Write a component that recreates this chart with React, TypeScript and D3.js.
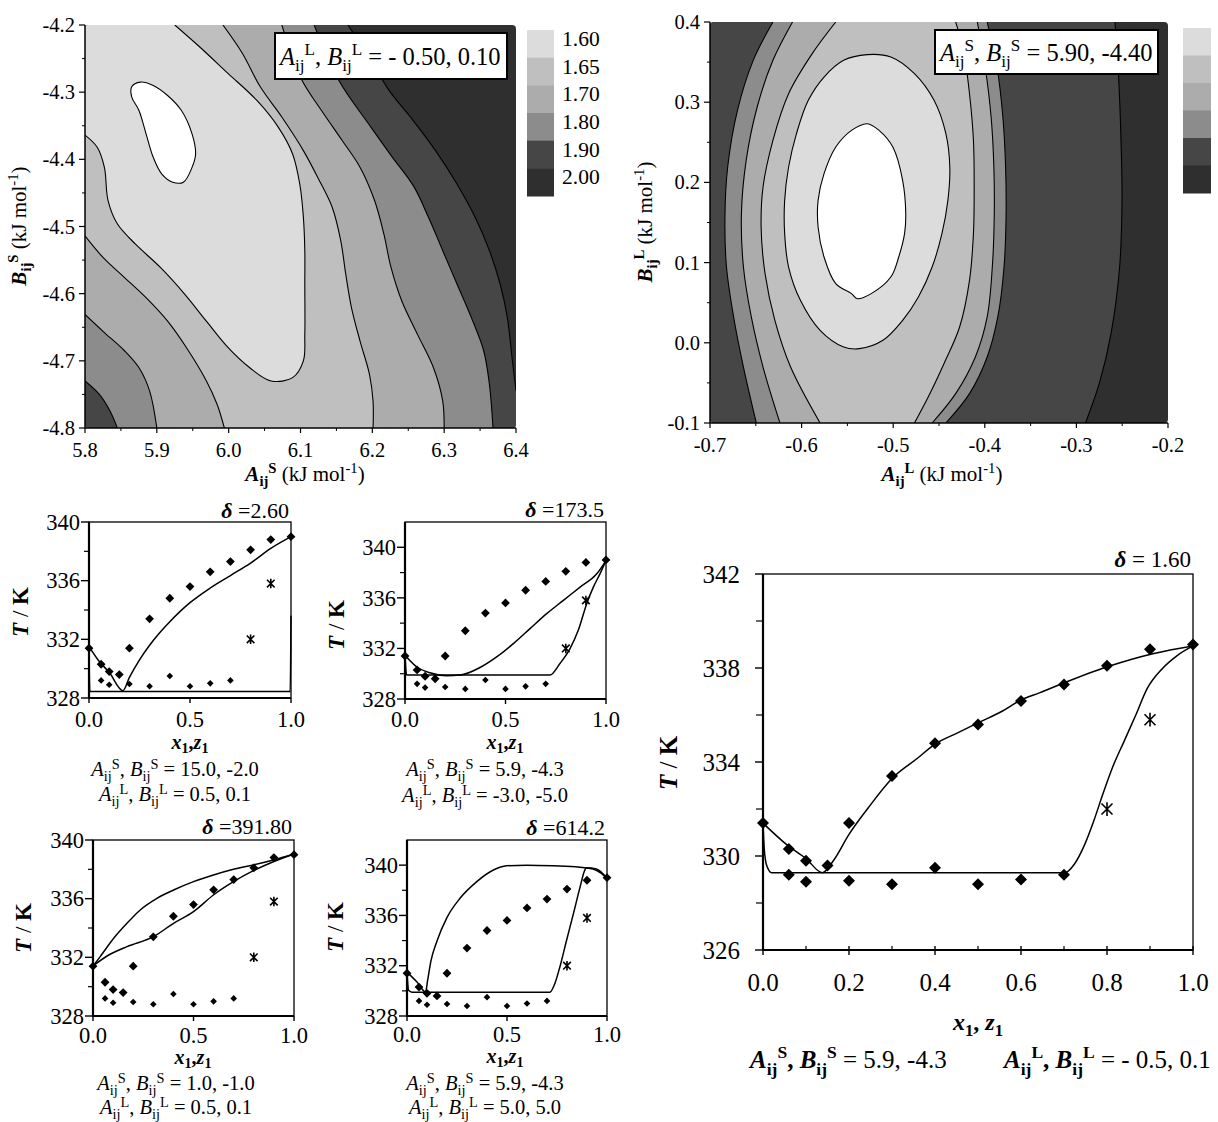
import React from "react";
import * as d3 from "d3";

const FONT = "'Liberation Serif', 'Times New Roman', serif";

// ---------------- contour levels (shared legend) ----------------
const levelLabels = ["1.60", "1.65", "1.70", "1.80", "1.90", "2.00"];
const levelGrays = ["#dcdcdc", "#bfbfbf", "#acacac", "#8c8c8c", "#464646", "#2f2f2f"];

// ---------------- top-left contour: A_ij^S vs B_ij^S ----------------
const tlXTicks = [5.8, 5.9, 6.0, 6.1, 6.2, 6.3, 6.4];
const tlYTicks = [-4.8, -4.7, -4.6, -4.5, -4.4, -4.3, -4.2];
const tl160 = [[5.865,-4.292],[5.877,-4.285],[5.895,-4.29],[5.915,-4.305],[5.934,-4.327],[5.949,-4.362],[5.954,-4.392],[5.949,-4.412],[5.937,-4.434],[5.922,-4.434],[5.907,-4.422],[5.895,-4.397],[5.885,-4.362],[5.875,-4.327],[5.865,-4.307]];
const tl165 = [[5.925,-4.2],[5.959,-4.232],[5.999,-4.272],[6.039,-4.312],[6.069,-4.352],[6.089,-4.392],[6.099,-4.437],[6.104,-4.486],[6.106,-4.536],[6.106,-4.586],[6.106,-4.661],[6.104,-4.7],[6.089,-4.725],[6.059,-4.73],[6.029,-4.71],[5.999,-4.68],[5.969,-4.641],[5.939,-4.601],[5.905,-4.561],[5.87,-4.526],[5.845,-4.496],[5.832,-4.461],[5.827,-4.412],[5.817,-4.382],[5.8,-4.364]];
const tl170a = [[5.992,-4.2],[6.019,-4.242],[6.044,-4.292],[6.074,-4.337],[6.104,-4.387],[6.124,-4.427],[6.144,-4.471],[6.156,-4.521],[6.163,-4.571],[6.171,-4.621],[6.183,-4.671],[6.196,-4.72],[6.201,-4.76],[6.201,-4.8]];
const tl170b = [[5.8,-4.514],[5.825,-4.546],[5.855,-4.576],[5.885,-4.606],[5.915,-4.641],[5.944,-4.685],[5.969,-4.73],[5.984,-4.765],[5.994,-4.8]];
const tl180a = [[6.074,-4.2],[6.101,-4.28],[6.129,-4.327],[6.158,-4.372],[6.183,-4.412],[6.203,-4.461],[6.216,-4.511],[6.226,-4.561],[6.241,-4.611],[6.263,-4.661],[6.285,-4.71],[6.298,-4.76],[6.3,-4.8]];
const tl180b = [[5.8,-4.631],[5.825,-4.656],[5.855,-4.685],[5.875,-4.71],[5.89,-4.745],[5.9,-4.8]];
const tl190a = [[6.119,-4.2],[6.153,-4.282],[6.198,-4.352],[6.228,-4.397],[6.258,-4.441],[6.278,-4.486],[6.298,-4.536],[6.318,-4.586],[6.338,-4.636],[6.355,-4.685],[6.363,-4.735],[6.368,-4.8]];
const tl190b = [[5.8,-4.73],[5.82,-4.75],[5.835,-4.775],[5.845,-4.8]];
const tl200 = [[6.166,-4.2],[6.198,-4.252],[6.223,-4.297],[6.253,-4.337],[6.288,-4.387],[6.318,-4.437],[6.343,-4.486],[6.363,-4.536],[6.378,-4.586],[6.388,-4.636],[6.395,-4.7],[6.4,-4.745]];

// ---------------- top-right contour: A_ij^L vs B_ij^L ----------------
const trXTicks = [-0.7, -0.6, -0.5, -0.4, -0.3, -0.2];
const trYTicks = [-0.1, 0.0, 0.1, 0.2, 0.3, 0.4];
const tr160 = [[-0.5283,0.2732],[-0.5455,0.2649],[-0.5627,0.2441],[-0.5755,0.2109],[-0.582,0.1776],[-0.582,0.1444],[-0.5755,0.107],[-0.5627,0.0737],[-0.5455,0.0613],[-0.5391,0.055],[-0.524,0.0613],[-0.5026,0.082],[-0.494,0.107],[-0.4876,0.1361],[-0.4863,0.161],[-0.4897,0.2026],[-0.5004,0.2441],[-0.5155,0.2649]];
const tr165 = [[-0.5283,0.3593],[-0.5541,0.3522],[-0.5755,0.3314],[-0.5927,0.3023],[-0.6056,0.2608],[-0.6142,0.2192],[-0.6185,0.1776],[-0.6185,0.1361],[-0.6142,0.0945],[-0.6013,0.053],[-0.5798,0.0156],[-0.5541,-0.0052],[-0.5369,-0.0073],[-0.5112,0.0031],[-0.4897,0.028],[-0.4725,0.0571],[-0.4575,0.0945],[-0.4468,0.1361],[-0.4403,0.1776],[-0.4382,0.2192],[-0.4425,0.2608],[-0.4554,0.3023],[-0.4768,0.3356],[-0.5026,0.3564]];
const tr170a = [[-0.5627,0.4],[-0.5884,0.3605],[-0.6142,0.3106],[-0.6313,0.2525],[-0.6421,0.1943],[-0.6442,0.1444],[-0.6399,0.0862],[-0.6292,0.028],[-0.612,-0.0302],[-0.5798,-0.1]];
const tr170b = [[-0.4318,0.4],[-0.4232,0.3647],[-0.4167,0.3106],[-0.4124,0.2525],[-0.4116,0.1943],[-0.4124,0.1361],[-0.4167,0.0779],[-0.4275,0.0197],[-0.4446,-0.026],[-0.4618,-0.0676],[-0.4768,-0.1]];
const tr180a = [[-0.6099,0.4],[-0.6313,0.3522],[-0.6485,0.294],[-0.6605,0.2275],[-0.6657,0.161],[-0.6635,0.0945],[-0.6549,0.0322],[-0.6421,-0.0302],[-0.6236,-0.1]];
const tr180b = [[-0.4082,0.4],[-0.3996,0.3439],[-0.3931,0.2815],[-0.3901,0.2192],[-0.3897,0.1569],[-0.3918,0.0945],[-0.3974,0.0322],[-0.4103,-0.0177],[-0.4318,-0.0634],[-0.4575,-0.1]];
const tr190a = [[-0.6313,0.4],[-0.6528,0.3522],[-0.67,0.2899],[-0.6807,0.2192],[-0.6837,0.1569],[-0.682,0.0945],[-0.6742,0.0322],[-0.6635,-0.0302],[-0.6494,-0.1]];
const tr190b = [[-0.3974,0.4],[-0.3867,0.3439],[-0.3803,0.2815],[-0.3773,0.2192],[-0.3768,0.1569],[-0.379,0.0945],[-0.3858,0.0322],[-0.3974,-0.0177],[-0.4167,-0.0634],[-0.4425,-0.1]];
const tr200 = [[-0.2579,0.4],[-0.2545,0.3439],[-0.2515,0.2608],[-0.2502,0.1776],[-0.2528,0.0945],[-0.2622,0.0114],[-0.2751,-0.051],[-0.2901,-0.1]];

// ---------------- experimental T-x data (same in every panel) ----------------
const expLiqX = [0, 0.06, 0.1, 0.15, 0.2, 0.3, 0.4, 0.5, 0.6, 0.7, 0.8, 0.9, 1.0];
const expLiqT = [331.4, 330.3, 329.8, 329.6, 331.4, 333.4, 334.8, 335.6, 336.6, 337.3, 338.1, 338.8, 339.0];
const expSolX = [0.06, 0.1, 0.2, 0.3, 0.4, 0.5, 0.6, 0.7];
const expSolT = [329.2, 328.9, 328.95, 328.8, 329.5, 328.8, 329.0, 329.2];
const expStarX = [0.8, 0.9];
const expStarT = [332.0, 335.8];

// ---------------- calculated curves [x1, T] ----------------
const p1Liq = [[0,331.5],[0.05,330.5],[0.1,329.75],[0.168,328.5],[0.2,329.4],[0.25,330.6],[0.3,331.6],[0.35,332.45],[0.4,333.2],[0.5,334.5],[0.6,335.5],[0.7,336.35],[0.8,337.2],[0.9,338.2],[1.0,339.0]];
const p1Sol = [[0,331.5],[0.004,328.45],[0.996,328.45],[1.0,333.6]];
const p2Liq = [[0,331.47],[0.058,330.55],[0.124,330.07],[0.207,329.84],[0.274,329.89],[0.373,330.49],[0.456,331.33],[0.539,332.38],[0.622,333.57],[0.705,334.75],[0.788,335.8],[0.871,336.85],[0.954,337.9],[1.0,338.95]];
const p2Sol = [[0,331.47],[0.008,329.89],[0.721,329.89],[0.771,330.81],[0.821,331.99],[0.862,333.43],[0.904,335.54],[0.937,336.85],[0.97,337.9],[1.0,338.95]];
const p3Liq = [[0,331.41],[0.036,332.05],[0.103,333.3],[0.169,334.32],[0.235,335.23],[0.318,336.02],[0.401,336.59],[0.5,337.16],[0.599,337.61],[0.699,338.0],[0.798,338.3],[0.897,338.64],[1.0,339.05]];
const p3Sol = [[0,331.41],[0.07,332.09],[0.169,332.73],[0.301,333.41],[0.401,334.32],[0.5,335.11],[0.599,336.25],[0.699,337.16],[0.798,337.91],[0.897,338.52],[1.0,339.05]];
const p4Liq = [[0,331.49],[0.05,330.7],[0.093,329.91],[0.103,330.83],[0.12,332.4],[0.15,333.97],[0.199,335.81],[0.266,337.38],[0.349,338.69],[0.432,339.61],[0.498,339.95],[0.598,340.0],[0.731,339.95],[0.864,339.84],[0.93,339.69],[0.972,339.35],[1.0,338.95]];
const p4Sol = [[0,331.49],[0.008,330.04],[0.025,329.89],[0.714,329.89],[0.739,330.57],[0.764,331.88],[0.797,333.97],[0.831,336.07],[0.864,338.17],[0.889,339.61],[0.897,339.79],[0.947,339.69],[1.0,338.95]];
const bigLiq = [[0,331.4],[0.058,330.44],[0.1,329.89],[0.138,329.29],[0.164,329.81],[0.2,330.92],[0.244,332.03],[0.3,333.3],[0.36,334.17],[0.4,334.76],[0.449,335.21],[0.502,335.68],[0.556,336.16],[0.596,336.6],[0.644,336.95],[0.698,337.35],[0.797,338.03],[0.909,338.62],[1.0,338.94]];
const bigSol = [[0,331.4],[0.003,330.29],[0.009,329.57],[0.02,329.29],[0.702,329.29],[0.724,329.65],[0.747,330.44],[0.769,331.48],[0.791,332.67],[0.813,333.78],[0.84,334.89],[0.867,336.0],[0.893,337.11],[0.929,337.98],[0.964,338.54],[1.0,338.94]];

const panelDelta = ["2.60", "173.5", "391.80", "614.2"];
const panelSParams = ["15.0, -2.0", "5.9, -4.3", "1.0, -1.0", "5.9, -4.3"];
const panelLParams = ["0.5, 0.1", "-3.0, -5.0", "0.5, 0.1", "5.0, 5.0"];
const smallYMajor = [328, 332, 336, 340];
const smallYMinor = [330, 334, 338];
const smallXTicks = [0, 0.5, 1.0];
const bigDelta = "1.60";
const bigSParam = "5.9, -4.3";
const bigLParam = "- 0.5, 0.1";
const bigYMajor = [326, 330, 334, 338, 342];
const bigYMinor = [328, 332, 336, 340];
const bigXMajor = [0, 0.2, 0.4, 0.6, 0.8, 1.0];
const bigXMinor = [0.1, 0.3, 0.5, 0.7, 0.9];

type Seg = { t: string; b?: boolean; i?: boolean; sub?: boolean; sup?: boolean };

function Rich({ x, y, segs, size, anchor = "start", transform, subK = 0.26, supK = 0.4 }: any) {
  let cur = 0;
  return (
    <text x={x} y={y} fontSize={size} textAnchor={anchor} transform={transform}
      fontFamily={FONT} fill="#000" style={{ whiteSpace: "pre" }}>
      {segs.map((s: Seg, k: number) => {
        const target = s.sub ? size * subK : s.sup ? -size * supK : 0;
        const dy = target - cur;
        cur = target;
        return (
          <tspan key={k} dy={dy} fontWeight={s.b ? "bold" : "normal"}
            fontStyle={s.i ? "italic" : "normal"} fontSize={s.sub || s.sup ? size * 0.7 : size}>
            {s.t}
          </tspan>
        );
      })}
    </text>
  );
}

const f1 = (v: number) => v.toFixed(1);
const diamond = (w: number) => `M0,${-w}L${w},0L0,${w}L${-w},0Z`;
const star = (r: number) => `M${-r},${-r}L${r},${r}M${-r},${r}L${r},${-r}M0,${-r * 1.25}L0,${r * 1.25}`;

function makeGen(xs: any, ys: any, closed = false) {
  return d3.line<number[]>().x((d) => xs(d[0])).y((d) => ys(d[1]))
    .curve(closed ? d3.curveCatmullRomClosed.alpha(0.5) : d3.curveCatmullRom.alpha(0.5));
}
function seg(gen: any, pts: number[][], lead: "M" | "L") {
  const s: string = gen(pts) || "";
  return lead === "M" ? s : "L" + s.slice(1);
}
const rev = (a: number[][]) => a.slice().reverse();

function Contour({ id, xs, ys, xTicks, yTicks, regions, openLines, closedLines, xMin, xMax, yMin, yMax }: any) {
  const g = makeGen(xs, ys);
  const gc = makeGen(xs, ys, true);
  const L = (a: number, b: number) => `L${xs(a)},${ys(b)}`;
  const x0 = xs(xMin), x1 = xs(xMax), y0 = ys(yMax), y1 = ys(yMin);
  const paths = regions.map((r: any) => {
    if (r.closed) return { d: gc(r.closed), fill: r.fill };
    let d = seg(g, r.a, "M");
    if (r.b) d += seg(g, rev(r.b), "L");
    (r.corners || []).forEach((c: number[]) => { d += L(c[0], c[1]); });
    return { d: d + "Z", fill: r.fill };
  });
  const step = xTicks[1] - xTicks[0];
  const ystep = yTicks[1] - yTicks[0];
  return (
    <g>
      <defs>
        <clipPath id={id}><rect x={x0} y={y0} width={x1 - x0} height={y1 - y0} rx={4} /></clipPath>
      </defs>
      <g clipPath={`url(#${id})`}>
        <rect x={x0} y={y0} width={x1 - x0} height={y1 - y0} fill={levelGrays[5]} />
        {paths.map((p: any, k: number) => <path key={k} d={p.d} fill={p.fill} stroke="none" />)}
        {openLines.map((l: number[][], k: number) => <path key={"o" + k} d={g(l) || ""} fill="none" stroke="#000" strokeWidth={1.1} />)}
        {closedLines.map((l: number[][], k: number) => <path key={"c" + k} d={gc(l) || ""} fill="none" stroke="#000" strokeWidth={1.1} />)}
      </g>
      <line x1={x0} y1={y0} x2={x0} y2={y1} stroke="#000" strokeWidth={1.5} />
      <line x1={x0} y1={y1} x2={x1} y2={y1} stroke="#000" strokeWidth={1.5} />
      {xTicks.map((v: number, k: number) => (
        <g key={"xt" + k}>
          <line x1={xs(v)} x2={xs(v)} y1={y1} y2={y1 + 5} stroke="#000" strokeWidth={1.2} />
          {k < xTicks.length - 1 && <line x1={xs(v + step / 2)} x2={xs(v + step / 2)} y1={y1} y2={y1 + 3} stroke="#000" strokeWidth={1} />}
          <text x={xs(v)} y={y1 + 29} fontSize={20.5} textAnchor="middle" fontFamily={FONT}>{f1(v)}</text>
        </g>
      ))}
      {yTicks.map((v: number, k: number) => (
        <g key={"yt" + k}>
          <line x1={x0 - 6} x2={x0} y1={ys(v)} y2={ys(v)} stroke="#000" strokeWidth={1.2} />
          {k < yTicks.length - 1 && <line x1={x0 - 3} x2={x0} y1={ys(v + ystep / 2)} y2={ys(v + ystep / 2)} stroke="#000" strokeWidth={1} />}
          <text x={x0 - 10} y={ys(v) + 7} fontSize={20.5} textAnchor="end" fontFamily={FONT}>{f1(v)}</text>
        </g>
      ))}
    </g>
  );
}

function TPlot({ x0, x1, yB, yT, tMax, liq, sol, delta, sParam, lParam, lay, big }: any) {
  const xs = d3.scaleLinear().domain([0, 1]).range([x0, x1]);
  const ys = d3.scaleLinear().domain([big ? 326 : 328, tMax]).range([yB, yT]);
  const g = d3.line<number[]>().x((d) => xs(d[0])).y((d) => ys(d[1])).curve(d3.curveMonotoneX);
  const fs = big ? 25 : 22.5;
  const yMaj = big ? bigYMajor : smallYMajor;
  const yMin = big ? bigYMinor : smallYMinor;
  const liqW = big ? 6 : 4.4;
  const solW = big ? 6 : 3.3;
  const starR = big ? 5.5 : 3.8;
  return (
    <g>
      <rect x={x0} y={yT} width={x1 - x0} height={yB - yT} fill="none" stroke="#000" strokeWidth={1.3} />
      <line x1={x0} y1={yT} x2={x0} y2={yB} stroke="#000" strokeWidth={2.2} />
      <line x1={x0} y1={yB} x2={x1} y2={yB} stroke="#000" strokeWidth={2.2} />
      {yMaj.map((v: number) => (
        <g key={"ym" + v}>
          <line x1={x0 - 8} x2={x0} y1={ys(v)} y2={ys(v)} stroke="#000" strokeWidth={1.4} />
          <text x={x0 - (big ? 23 : 9)} y={ys(v) + fs * 0.34} fontSize={fs} textAnchor="end" fontFamily={FONT}>{v}</text>
        </g>
      ))}
      {yMin.map((v: number) => <line key={"yn" + v} x1={x0 - (big ? 7 : 5)} x2={x0} y1={ys(v)} y2={ys(v)} stroke="#000" strokeWidth={1.2} />)}
      {(big ? bigXMajor : smallXTicks).map((v: number) => (
        <g key={"xm" + v}>
          <line x1={xs(v)} x2={xs(v)} y1={yB - (big ? 4 : 0)} y2={yB + 5} stroke="#000" strokeWidth={1.4} />
          <text x={xs(v)} y={lay.xLab} fontSize={fs} textAnchor="middle" fontFamily={FONT}>{f1(v)}</text>
        </g>
      ))}
      {big && bigXMinor.map((v: number) => <line key={"xn" + v} x1={xs(v)} x2={xs(v)} y1={yB - 4} y2={yB} stroke="#000" strokeWidth={1.2} />)}
      <path d={g(liq) || ""} fill="none" stroke="#000" strokeWidth={1.5} />
      <path d={g(sol) || ""} fill="none" stroke="#000" strokeWidth={1.5} />
      {expLiqX.map((v, k) => <path key={"l" + k} d={diamond(liqW)} transform={`translate(${xs(v)},${ys(expLiqT[k])})`} fill="#000" />)}
      {expSolX.map((v, k) => <path key={"s" + k} d={diamond(solW)} transform={`translate(${xs(v)},${ys(expSolT[k])})`} fill="#000" />)}
      {expStarX.map((v, k) => <path key={"a" + k} d={star(starR)} transform={`translate(${xs(v)},${ys(expStarT[k])})`} fill="none" stroke="#000" strokeWidth={1.6} />)}
      <Rich x={x1 - 2} y={lay.delta} size={big ? 23 : 22} anchor="end" segs={[{ t: "δ", b: true, i: true }, { t: big ? " = " + delta : " =" + delta }]} />
      <Rich x={lay.xTitleX} y={lay.xTitle} size={big ? 24 : 20} anchor="middle" subK={big ? 0.26 : 0.2}
        segs={[{ t: "x", b: true, i: true }, { t: "1", b: true, sub: true }, { t: big ? ", " : ",", b: true }, { t: "z", b: true, i: true }, { t: "1", b: true, sub: true }]} />
      <Rich x={0} y={0} size={big ? 25 : 23} anchor="middle" transform={`translate(${lay.yTitleX},${lay.yTitleY}) rotate(-90)`}
        segs={[{ t: "T", b: true, i: true }, { t: " / " }, { t: "K", b: true }]} />
      {big ? (
        <g>
          <Rich x={lay.p1x} y={lay.p1y} size={25} segs={[{ t: "A", b: true, i: true }, { t: "ij", b: true, sub: true }, { t: "S", b: true, sup: true }, { t: ", ", b: true }, { t: "B", b: true, i: true }, { t: "ij", b: true, sub: true }, { t: "S", b: true, sup: true }, { t: " = " + sParam }]} />
          <Rich x={lay.p2x} y={lay.p2y} size={25} segs={[{ t: "A", b: true, i: true }, { t: "ij", b: true, sub: true }, { t: "L", b: true, sup: true }, { t: ", ", b: true }, { t: "B", b: true, i: true }, { t: "ij", b: true, sub: true }, { t: "L", b: true, sup: true }, { t: " = " + lParam }]} />
        </g>
      ) : (
        <g>
          <Rich x={lay.px} y={lay.p1y} size={20.5} anchor="middle" subK={0.22} supK={0.34} segs={[{ t: "A", i: true }, { t: "ij", sub: true }, { t: "S", sup: true }, { t: ", " }, { t: "B", i: true }, { t: "ij", sub: true }, { t: "S", sup: true }, { t: " = " + sParam }]} />
          <Rich x={lay.px} y={lay.p2y} size={20.5} anchor="middle" subK={0.22} supK={0.34} segs={[{ t: "A", i: true }, { t: "ij", sub: true }, { t: "L", sup: true }, { t: ", " }, { t: "B", i: true }, { t: "ij", sub: true }, { t: "L", sup: true }, { t: " = " + lParam }]} />
        </g>
      )}
    </g>
  );
}

export default function App() {
  const xTL = d3.scaleLinear().domain([5.8, 6.4]).range([85, 516]);
  const yTL = d3.scaleLinear().domain([-4.8, -4.2]).range([428, 25]);
  const xTR = d3.scaleLinear().domain([-0.7, -0.2]).range([710, 1168]);
  const yTR = d3.scaleLinear().domain([-0.1, 0.4]).range([423, 22]);

  const tlRegions = [
    { a: tl200, corners: [[6.4, -4.8], [5.8, -4.8], [5.8, -4.2]], fill: levelGrays[4] },
    { a: tl190a, b: tl190b, corners: [[5.8, -4.2]], fill: levelGrays[3] },
    { a: tl180a, b: tl180b, corners: [[5.8, -4.2]], fill: levelGrays[2] },
    { a: tl170a, b: tl170b, corners: [[5.8, -4.2]], fill: levelGrays[1] },
    { a: tl165, corners: [[5.8, -4.2]], fill: levelGrays[0] },
    { closed: tl160, fill: "#ffffff" },
  ];
  const trRegions = [
    { a: tr200, corners: [[-0.7, -0.1], [-0.7, 0.4]], fill: levelGrays[4] },
    { a: tr190a, b: tr190b, fill: levelGrays[3] },
    { a: tr180a, b: tr180b, fill: levelGrays[2] },
    { a: tr170a, b: tr170b, fill: levelGrays[1] },
    { closed: tr165, fill: levelGrays[0] },
    { closed: tr160, fill: "#ffffff" },
  ];

  const bandH = (196 - 30) / levelLabels.length;
  const bandH2 = (193 - 28) / levelLabels.length;

  const small = [
    { x0: 89, x1: 291, yB: 698, yT: 522, tMax: 340, liq: p1Liq, sol: p1Sol,
      lay: { delta: 518, xLab: 727, xTitleX: 190, xTitle: 749, yTitleX: 28, yTitleY: 612, px: 175, p1y: 776, p2y: 801 } },
    { x0: 405, x1: 606, yB: 699, yT: 522, tMax: 342, liq: p2Liq, sol: p2Sol,
      lay: { delta: 517, xLab: 727, xTitleX: 505, xTitle: 749, yTitleX: 344, yTitleY: 625, px: 485, p1y: 776, p2y: 802 } },
    { x0: 93, x1: 294, yB: 1016, yT: 840, tMax: 340, liq: p3Liq, sol: p3Sol,
      lay: { delta: 834, xLab: 1043, xTitleX: 193, xTitle: 1064, yTitleX: 31, yTitleY: 928, px: 176, p1y: 1090, p2y: 1114 } },
    { x0: 407, x1: 607, yB: 1016, yT: 840, tMax: 342, liq: p4Liq, sol: p4Sol,
      lay: { delta: 835, xLab: 1042, xTitleX: 505, xTitle: 1063, yTitleX: 343, yTitleY: 927, px: 485, p1y: 1090, p2y: 1114 } },
  ];

  return (
    <div style={{ position: "absolute", left: 0, top: 0 }}>
      <svg width={1218} height={1122} style={{ display: "block", background: "#fff" }} fontFamily={FONT}>
        <rect x={0} y={0} width={1218} height={1122} fill="#fff" />
        {/* top-left contour */}
        <Contour id="clipTL" xs={xTL} ys={yTL} xTicks={tlXTicks} yTicks={tlYTicks} regions={tlRegions}
          openLines={[tl165, tl170a, tl170b, tl180a, tl180b, tl190a, tl190b, tl200]} closedLines={[tl160]}
          xMin={5.8} xMax={6.4} yMin={-4.8} yMax={-4.2} />
        <rect x={275} y={33} width={232} height={46} fill="#fff" stroke="#000" strokeWidth={2} />
        <Rich x={280} y={65} size={24.5} segs={[{ t: "A", i: true }, { t: "ij", sub: true }, { t: "L", sup: true }, { t: ", " }, { t: "B", i: true }, { t: "ij", sub: true }, { t: "L", sup: true }, { t: " = - 0.50, 0.10" }]} />
        {levelLabels.map((l, k) => (
          <g key={"lg" + k}>
            <rect x={527} y={30 + k * bandH} width={27} height={bandH + 0.5} fill={levelGrays[k]} />
            <text x={562} y={30 + k * bandH + 16} fontSize={21.5} fontFamily={FONT}>{l}</text>
          </g>
        ))}
        <Rich x={305} y={481} size={21} anchor="middle" segs={[{ t: "A", b: true, i: true }, { t: "ij", b: true, sub: true }, { t: "S", b: true, sup: true }, { t: " (kJ mol" }, { t: "-1", sup: true }, { t: ")" }]} />
        <Rich x={0} y={0} size={21} anchor="middle" transform="translate(26,226) rotate(-90)" segs={[{ t: "B", b: true, i: true }, { t: "ij", b: true, sub: true }, { t: "S", b: true, sup: true }, { t: " (kJ mol" }, { t: "-1", sup: true }, { t: ")" }]} />

        {/* top-right contour */}
        <Contour id="clipTR" xs={xTR} ys={yTR} xTicks={trXTicks} yTicks={trYTicks} regions={trRegions}
          openLines={[tr170a, tr170b, tr180a, tr180b, tr190a, tr190b, tr200]} closedLines={[tr165, tr160]}
          xMin={-0.7} xMax={-0.2} yMin={-0.1} yMax={0.4} />
        <rect x={935} y={30} width={223} height={44} fill="#fff" stroke="#000" strokeWidth={2} />
        <Rich x={940} y={61} size={24.5} segs={[{ t: "A", i: true }, { t: "ij", sub: true }, { t: "S", sup: true }, { t: ", " }, { t: "B", i: true }, { t: "ij", sub: true }, { t: "S", sup: true }, { t: " = 5.90, -4.40" }]} />
        {levelLabels.map((l, k) => (
          <rect key={"lg2" + k} x={1183} y={28 + k * bandH2} width={28} height={bandH2 + 0.5} fill={levelGrays[k]} />
        ))}
        <Rich x={942} y={481} size={21} anchor="middle" segs={[{ t: "A", b: true, i: true }, { t: "ij", b: true, sub: true }, { t: "L", b: true, sup: true }, { t: " (kJ mol" }, { t: "-1", sup: true }, { t: ")" }]} />
        <Rich x={0} y={0} size={21} anchor="middle" transform="translate(652,222) rotate(-90)" segs={[{ t: "B", b: true, i: true }, { t: "ij", b: true, sub: true }, { t: "L", b: true, sup: true }, { t: " (kJ mol" }, { t: "-1", sup: true }, { t: ")" }]} />

        {/* small T-x panels */}
        {small.map((p, k) => (
          <TPlot key={"sp" + k} {...p} delta={panelDelta[k]} sParam={panelSParams[k]} lParam={panelLParams[k]} big={false} />
        ))}

        {/* big T-x panel */}
        <TPlot x0={763} x1={1193} yB={950} yT={574} tMax={342} liq={bigLiq} sol={bigSol} delta={bigDelta}
          sParam={bigSParam} lParam={bigLParam} big={true}
          lay={{ delta: 567, xLab: 991, xTitleX: 978, xTitle: 1030, yTitleX: 677, yTitleY: 763, p1x: 750, p1y: 1068, p2x: 1004, p2y: 1068 }} />
      </svg>
    </div>
  );
}
